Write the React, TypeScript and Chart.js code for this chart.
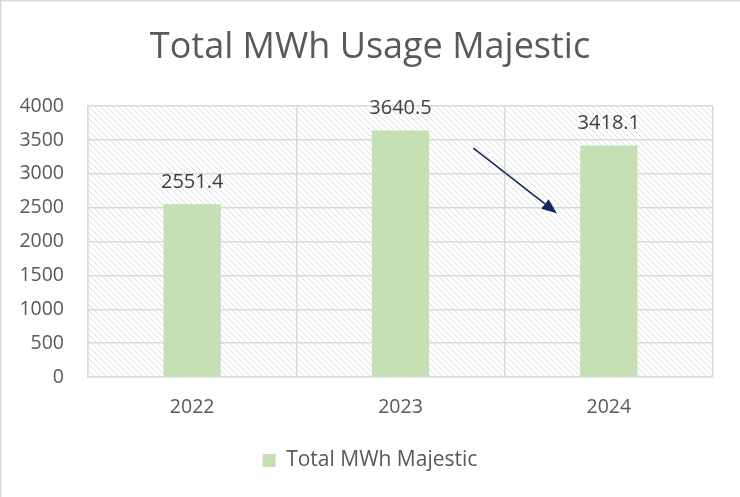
import React, { useEffect, useRef } from "react";
import { Chart, registerables } from "chart.js";

Chart.register(...registerables);

const categories = ["2022", "2023", "2024"];
const values = [2551.4, 3640.5, 3418.1];
const valueLabels = ["2551.4", "3640.5", "3418.1"];
const yTicks = [0, 500, 1000, 1500, 2000, 2500, 3000, 3500, 4000];
const seriesName = "Total MWh Majestic";
const titleText = "Total MWh Usage Majestic";
// arrow annotation in data space: [category index, value]
const arrowFrom = [1.35, 3380];
const arrowTo = [1.75, 2420];

const FONT = "'Open Sans', 'Noto Sans', sans-serif";
const TEXT = "#595959";
const GRID = "#d9d9d9";
const BAR = "#c5e0b4";

function makePattern(ctx: CanvasRenderingContext2D) {
  const s = 6;
  const c = document.createElement("canvas");
  c.width = s;
  c.height = s;
  const p = c.getContext("2d")!;
  p.fillStyle = "#ffffff";
  p.fillRect(0, 0, s, s);
  p.strokeStyle = "#dcdcdc";
  p.lineWidth = 1;
  p.beginPath();
  p.moveTo(-1, -1);
  p.lineTo(s + 1, s + 1);
  p.moveTo(-1 - s, -1);
  p.lineTo(1, s + 1);
  p.moveTo(s - 1, -1);
  p.lineTo(2 * s + 1, s + 1);
  p.stroke();
  return ctx.createPattern(c, "repeat")!;
}

const framePlugin = {
  id: "frame",
  beforeDraw(chart: any) {
    const { ctx, chartArea, width, height } = chart;
    ctx.save();
    ctx.fillStyle = "#ffffff";
    ctx.fillRect(0, 0, width, height);
    ctx.fillStyle = makePattern(ctx);
    ctx.fillRect(chartArea.left, chartArea.top, chartArea.right - chartArea.left, chartArea.bottom - chartArea.top);
    ctx.strokeStyle = GRID;
    ctx.lineWidth = 1.5;
    ctx.beginPath();
    ctx.moveTo(0.75, height);
    ctx.lineTo(0.75, 0.75);
    ctx.lineTo(width, 0.75);
    ctx.stroke();
    ctx.restore();
  },
};

const labelPlugin = {
  id: "valueLabels",
  afterDatasetsDraw(chart: any) {
    const { ctx } = chart;
    const meta = chart.getDatasetMeta(0);
    ctx.save();
    ctx.font = `20px ${FONT}`;
    ctx.fillStyle = "#404040";
    ctx.textAlign = "center";
    ctx.textBaseline = "middle";
    meta.data.forEach((bar: any, i: number) => {
      ctx.fillText(valueLabels[i], bar.x, bar.y - 22);
    });
    ctx.restore();
  },
};

const arrowPlugin = {
  id: "arrow",
  afterDatasetsDraw(chart: any) {
    const { ctx, scales } = chart;
    const x1 = scales.x.getPixelForValue(arrowFrom[0]);
    const y1 = scales.y.getPixelForValue(arrowFrom[1]);
    const x2 = scales.x.getPixelForValue(arrowTo[0]);
    const y2 = scales.y.getPixelForValue(arrowTo[1]);
    const ang = Math.atan2(y2 - y1, x2 - x1);
    const headLen = 15;
    const headW = 6;
    const bx = x2 - headLen * Math.cos(ang);
    const by = y2 - headLen * Math.sin(ang);
    ctx.save();
    ctx.strokeStyle = "#0e2a5c";
    ctx.fillStyle = "#0e2a5c";
    ctx.lineWidth = 1.5;
    ctx.beginPath();
    ctx.moveTo(x1, y1);
    ctx.lineTo(bx, by);
    ctx.stroke();
    ctx.beginPath();
    ctx.moveTo(x2, y2);
    ctx.lineTo(bx + headW * Math.sin(ang), by - headW * Math.cos(ang));
    ctx.lineTo(bx - headW * Math.sin(ang), by + headW * Math.cos(ang));
    ctx.closePath();
    ctx.fill();
    ctx.restore();
  },
};

export default function App() {
  const ref = useRef<HTMLCanvasElement>(null);
  useEffect(() => {
    document.body.style.margin = "0";
    const chart = new Chart(ref.current!, {
      type: "bar",
      data: {
        labels: categories,
        datasets: [
          {
            label: seriesName,
            data: values,
            backgroundColor: BAR,
            borderWidth: 0,
            categoryPercentage: 1,
            barPercentage: 0.275,
          },
        ],
      },
      options: {
        animation: false,
        responsive: false,
        devicePixelRatio: 1,
        layout: { padding: { left: 0, right: 0, top: 0, bottom: 16 } },
        plugins: {
          title: {
            display: true,
            text: titleText,
            color: TEXT,
            font: { family: FONT, size: 36, weight: "normal" },
            padding: { top: 26, bottom: 37 },
          },
          legend: {
            position: "bottom",
            labels: {
              color: TEXT,
              font: { family: FONT, size: 21 },
              boxWidth: 13,
              boxHeight: 13,
              padding: 20,
            },
          },
          tooltip: { enabled: false },
        },
        scales: {
          x: {
            grid: { color: GRID, lineWidth: 1.5, drawTicks: false, offset: true },
            border: { color: GRID, width: 1.5 },
            ticks: { color: TEXT, font: { family: FONT, size: 19.5 }, padding: 19 },
            afterFit: (s: any) => { s.height = 53; },
          },
          y: {
            min: 0,
            max: 4000,
            afterBuildTicks: (s: any) => { s.ticks = yTicks.map((v) => ({ value: v })); },
            grid: { color: GRID, lineWidth: 1.5, drawTicks: false },
            border: { color: GRID, width: 1.5 },
            ticks: { color: TEXT, font: { family: FONT, size: 19.5 }, padding: 24, callback: (v: any) => String(v) },
            afterFit: (s: any) => { s.width = 88; },
          },
          spacer: {
            type: "linear",
            position: "right",
            display: true,
            grid: { display: false, drawTicks: false },
            border: { display: false },
            ticks: { display: false },
            afterFit: (s: any) => { s.width = 27; },
          },
        },
      },
      plugins: [framePlugin, labelPlugin, arrowPlugin],
    } as any);
    return () => chart.destroy();
  }, []);
  return (
    <div style={{ position: "absolute", left: 0, top: 0, width: 740, height: 497 }}>
      <canvas ref={ref} width={740} height={497} />
    </div>
  );
}
